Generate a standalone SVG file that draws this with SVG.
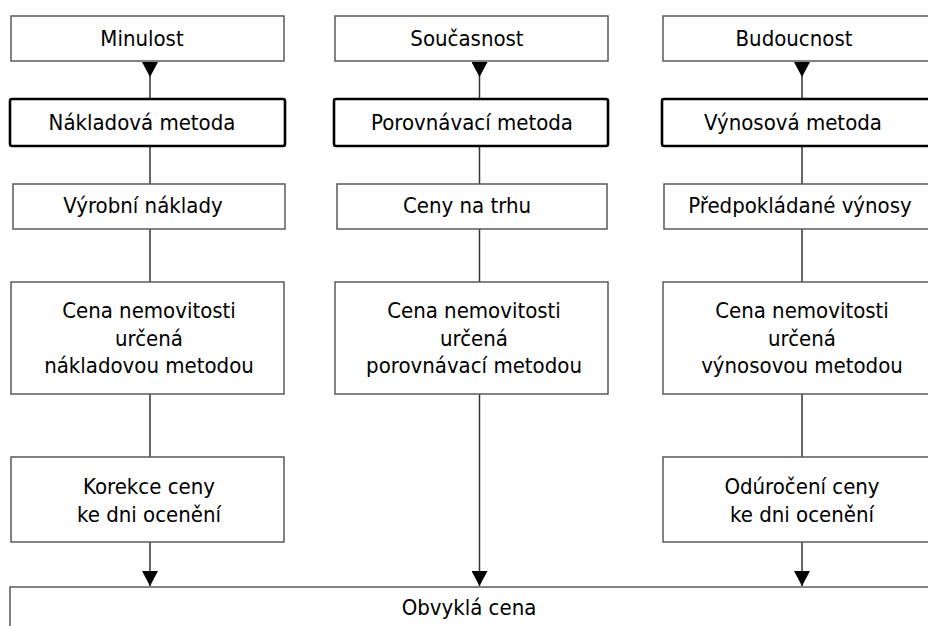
<svg xmlns="http://www.w3.org/2000/svg" width="928" height="626" viewBox="0 0 928 626">
<style>
.box{fill:#fff;stroke:#5a5a5a;stroke-width:1.5}
.bold{fill:#fff;stroke:#000;stroke-width:2.6}
.t{font-family:"DejaVu Sans Condensed","DejaVu Sans",sans-serif;font-size:22px;fill:#000;text-anchor:middle}
.ln{fill:none;stroke:#333;stroke-width:1.5}
.s{marker-start:url(#hs)}
.e{marker-end:url(#he)}
</style>
<defs>
<marker id="hs" markerUnits="userSpaceOnUse" markerWidth="16" markerHeight="16" refX="0" refY="8" orient="auto"><path d="M0,0 L15,8 L0,16 z" fill="#000"/></marker>
<marker id="he" markerUnits="userSpaceOnUse" markerWidth="16" markerHeight="16" refX="15" refY="8" orient="auto"><path d="M0,0 L15,8 L0,16 z" fill="#000"/></marker>
</defs>
<rect width="928" height="626" fill="#fff"/>
<g id="connectors">
<path class="ln s" d="M150,62 V99"/>
<path class="ln" d="M150,146 V184"/>
<path class="ln" d="M150,229 V282"/>
<path class="ln" d="M150,394 V457"/>
<path class="ln e" d="M150,542 V586"/>
<path class="ln s" d="M479.5,62 V99"/>
<path class="ln" d="M479.5,146 V184"/>
<path class="ln" d="M479.5,229 V282"/>
<path class="ln e" d="M479.5,394 V586"/>
<path class="ln s" d="M802,62 V99"/>
<path class="ln" d="M802,146 V184"/>
<path class="ln" d="M802,229 V282"/>
<path class="ln" d="M802,394 V457"/>
<path class="ln e" d="M802,542 V586"/>
</g>
<g id="minulost"><rect class="box" x="11" y="16" width="273" height="45"/><text class="t" x="142" y="46">Minulost</text></g>
<g id="nakladova"><rect class="bold" x="10" y="99" width="275" height="47" rx="2"/><text class="t" x="142" y="130">Nákladová metoda</text></g>
<g id="vyrobni"><rect class="box" x="13" y="184" width="272" height="45"/><text class="t" x="143" y="213">Výrobní náklady</text></g>
<g id="cena-nakl"><rect class="box" x="11" y="282" width="273" height="112"/><text class="t" x="149" y="318">Cena nemovitosti</text><text class="t" x="149" y="345.5">určená</text><text class="t" x="149" y="373">nákladovou metodou</text></g>
<g id="korekce"><rect class="box" x="11" y="457" width="273" height="85"/><text class="t" x="149" y="494">Korekce ceny</text><text class="t" x="149" y="521.5">ke dni ocenění</text></g>
<g id="soucasnost"><rect class="box" x="335" y="16" width="273" height="45"/><text class="t" x="467" y="46">Současnost</text></g>
<g id="porovnavaci"><rect class="bold" x="334" y="99" width="274" height="47" rx="2"/><text class="t" x="472" y="130">Porovnávací metoda</text></g>
<g id="ceny-trhu"><rect class="box" x="337" y="184" width="270" height="45"/><text class="t" x="467" y="213">Ceny na trhu</text></g>
<g id="cena-por"><rect class="box" x="335" y="282" width="273" height="112"/><text class="t" x="474" y="318">Cena nemovitosti</text><text class="t" x="474" y="345.5">určená</text><text class="t" x="474" y="373">porovnávací metodou</text></g>
<g id="budoucnost"><rect class="box" x="663" y="16" width="280" height="45"/><text class="t" x="794" y="46">Budoucnost</text></g>
<g id="vynosova"><rect class="bold" x="662" y="99" width="280" height="47" rx="2"/><text class="t" x="793" y="130">Výnosová metoda</text></g>
<g id="predpokladane"><rect class="box" x="664" y="184" width="280" height="45"/><text class="t" x="800" y="213">Předpokládané výnosy</text></g>
<g id="cena-vyn"><rect class="box" x="663" y="282" width="280" height="112"/><text class="t" x="802" y="318">Cena nemovitosti</text><text class="t" x="802" y="345.5">určená</text><text class="t" x="802" y="373">výnosovou metodou</text></g>
<g id="odurocen"><rect class="box" x="663" y="457" width="280" height="85"/><text class="t" x="802" y="494">Odúročení ceny</text><text class="t" x="802" y="521.5">ke dni ocenění</text></g>
<g id="obvykla"><rect class="box" x="10" y="587" width="935" height="60"/><text class="t" x="469" y="615">Obvyklá cena</text></g>
</svg>
